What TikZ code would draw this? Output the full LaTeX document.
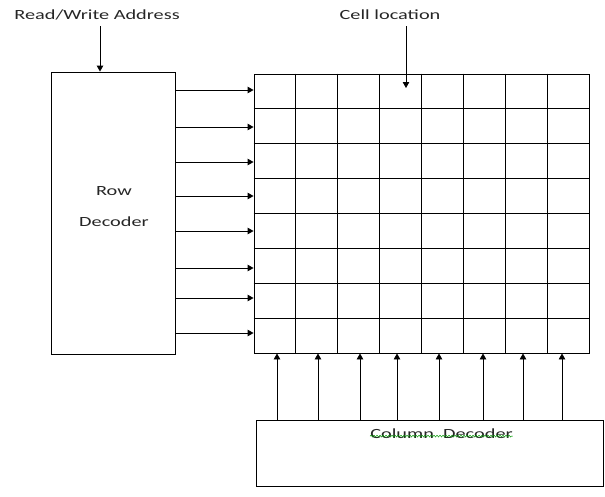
\documentclass[tikz,border=0pt]{standalone}
\usepackage{fontspec}
\setmainfont{Carlito}
\usetikzlibrary{arrows.meta,decorations.pathmorphing,calc}
\newcommand{\wide}[1]{\scalebox{1.45}[1]{#1}}
\begin{document}
\begin{tikzpicture}[x=1pt,y=-1pt,
  box/.style={draw, line width=0.9pt, inner sep=0pt},
  conn/.style={line width=0.9pt, -{Triangle[length=6pt,width=6.5pt]}},
  lbl/.style={font=\fontsize{14}{16}\selectfont, inner sep=0pt, text=black!85},
  gridline/.style={line width=0.9pt}]
\useasboundingbox (0,0) rectangle (605,496);
% labels
\node[lbl] (rw) at (97,15) {\wide{Read/Write Address}};
\node[lbl] (cl) at (390,15) {\wide{Cell location}};
% row decoder
\node[box, minimum width=124pt, minimum height=282pt] (row) at (113,213) {};
\node[lbl] (rowt) at (114,191) {\wide{Row}};
\node[lbl] (dect) at (114,222) {\wide{Decoder}};
% column decoder
\node[box, minimum width=347pt, minimum height=66pt] (col) at (429.5,453) {};
\node[lbl] (colt) at (441.5,434) {\wide{Column\ \ Decoder}};
\draw[green!60!black, line width=0.5pt, decorate, decoration={snake, amplitude=0.8pt, segment length=3pt}]
  ([yshift=3pt]colt.south west) -- ([yshift=3pt]colt.south east);
% grid
\node[box, minimum width=335pt, minimum height=279pt] (grid) at (421.5,213.5) {};
\foreach \i in {1,...,7} {
  \draw[gridline] ($(grid.north west)!\i/8!(grid.north east)$) -- ($(grid.south west)!\i/8!(grid.south east)$);
  \draw[gridline] ($(grid.north west)!\i/8!(grid.south west)$) -- ($(grid.north east)!\i/8!(grid.south east)$);
}
% address arrow
\coordinate (rwend) at (100,72);
\draw[conn] (100,26) -- (row.north -| rwend);
% cell location arrow
\coordinate (clstart) at (406,26);
\coordinate (cltip) at (406,88);
\draw[conn] (clstart) -- (cltip);
% row lines
\foreach \y in {90,127,162,196,231,268,298,333} {
  \coordinate (ry) at (0,\y);
  \draw[conn] (row.east |- ry) -- (grid.west |- ry);
}
% column lines
\foreach \x in {277,318,360,397,439,483,523,562} {
  \coordinate (cx) at (\x,0);
  \draw[conn] (col.north -| cx) -- (grid.south -| cx);
}
\end{tikzpicture}
\end{document}
